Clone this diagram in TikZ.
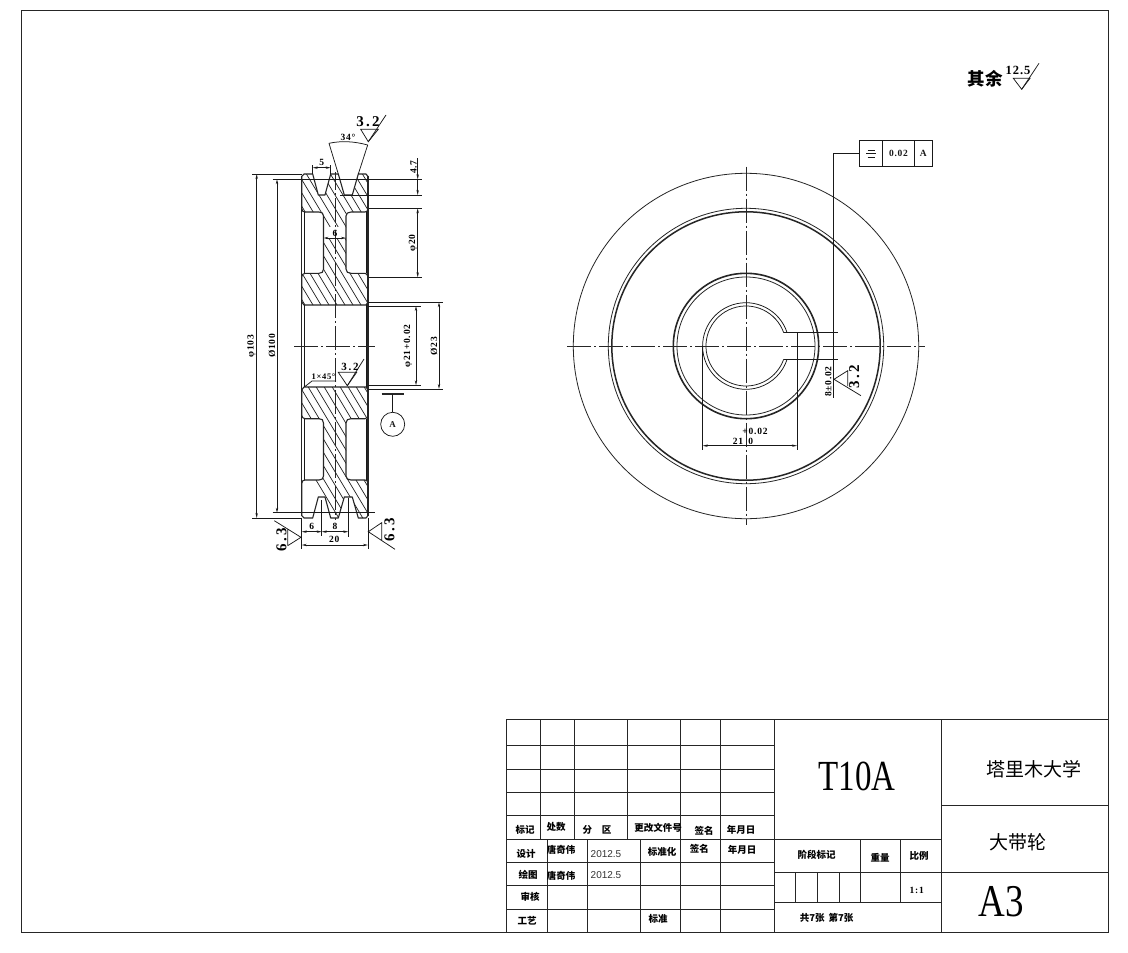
\documentclass[tikz,border=0pt]{standalone}
\usepackage{fontspec}
\usepackage{graphicx}
\setmainfont{Liberation Serif}
\newfontfamily\cjk{Noto Sans CJK SC}
\newfontfamily\dimf{Liberation Serif}[LetterSpace=8]
\newfontfamily\roughf{Liberation Serif}[LetterSpace=15]
\newfontfamily\arl{Liberation Sans}
\usetikzlibrary{arrows.meta}
\newcommand{\fsz}[1]{\fontsize{#1}{#1}\selectfont}
\newcommand{\sectpath}{(304,174) -- (301.7,176.5) -- (301.7,208) .. controls (301.7,211) and (303,212) .. (305,212) -- (319,212) .. controls (322,212) and (323.5,213.5) .. (323.5,216) -- (323.5,269) .. controls (323.5,272) and (322,273.3) .. (319,273.3) -- (305,273.3) .. controls (303,273.3) and (301.7,275) .. (301.7,277) -- (301.7,302) -- (304,305) -- (366,305) -- (368,302) -- (368,277) .. controls (368,275) and (367,273.3) .. (365,273.3) -- (351,273.3) .. controls (348,273.3) and (346,272) .. (346,269) -- (346,216) .. controls (346,213.5) and (348,212) .. (351,212) -- (365,212) .. controls (367,212) and (368,211) .. (368,208) -- (368,176.5) -- (366,174) -- (358.3,174) -- (352.3,195) -- (344.3,195) -- (338.3,174) -- (330.7,174) -- (325,195) -- (318.3,195) -- (312.7,174) -- cycle}
\tikzset{
  thin line/.style={line width=0.75pt,black!90},
  outline/.style={line width=1.1pt,black!85},
  hatch/.style={line width=0.7pt,black!85},
  axis line/.style={line width=0.75pt,black!85,dash pattern=on 24pt off 3pt on 2pt off 3pt},
  dimline/.style={thin line,{Stealth[length=5pt,width=2.4pt]}-{Stealth[length=5pt,width=2.4pt]}},
  frameline/.style={line width=1pt,black!85},
  dimtext/.style={font=\dimf\bfseries\fsz{9.5},inner sep=0pt},
  roughtext/.style={font=\roughf\bfseries\fsz{15},inner sep=0pt},
  titlecn/.style={font=\cjk\bfseries\fsz{9.5},inner sep=0pt},
  bigcn/.style={font=\cjk\fsz{19},inner sep=0pt},
  plaintext/.style={font=\arl\fsz{10},inner sep=0pt,text=black!80},
}
\begin{document}
\begin{tikzpicture}[x=1pt,y=-1pt]
\useasboundingbox (0,0) rectangle (1128,953);
\fill[white] (0,0) rectangle (1128,953);
% border
\draw[frameline] (21,10) rectangle (1108,932.5);

% ---------- section view: hatching
\begin{scope}
  \clip \sectpath;
  \foreach \i in {136,144,...,376} \draw[hatch] (\i,170) -- ({\i+96},330);
\end{scope}
\begin{scope}[shift={(0,692)},yscale=-1]
  \begin{scope}
    \clip \sectpath;
    \foreach \i in {256,264,...,376} \draw[hatch] (\i,312) -- ({\i+87},167);
  \end{scope}
\end{scope}
\fill[white] (324.2,227) rectangle (345.3,238);
\draw[outline,line join=round] \sectpath;
\begin{scope}[shift={(0,692)},yscale=-1]
  \draw[outline,line join=round] \sectpath;
\end{scope}
% section view: long edges
\draw[outline] (301.7,176) -- (301.7,516);
\draw[outline] (368,176) -- (368,516);
\draw[thin line] (304,212) -- (304,273.3) (366,212) -- (366,273.3);
\draw[thin line] (304,305) -- (304,387) (366,305) -- (366,387);
\draw[thin line] (304,419) -- (304,480) (366,419) -- (366,480);
% axis lines
\draw[axis line,dash phase=6pt] (335,172) -- (335,520);
\draw[axis line] (294,346) -- (375,346);

% dimensions: left
\coordinate (a1) at (256.7,174); \coordinate (a2) at (256.7,518);
\draw[thin line] (252,174) -- (301.7,174) (252,518) -- (301.7,518);
\draw[dimline] (a1) -- (a2);
\node[dimtext,rotate=90] (phi103) at (251.5,346) {φ103};
\coordinate (b1) at (277,179.3); \coordinate (b2) at (277,512.7);
\draw[thin line] (272.7,179.3) -- (421.7,179.3) (272.7,512.7) -- (375,512.7);
\draw[dimline] (b1) -- (b2);
\node[dimtext,rotate=90] (phi100) at (272,346) {Ø100};
% dimensions: right
\draw[thin line] (340,195) -- (421.7,195);
\draw[thin line,-{Stealth[length=5pt,width=2.4pt]}] (417.7,158) -- (417.7,179.3);
\draw[thin line,{Stealth[length=5pt,width=2.4pt]}-] (417.7,195) -- (417.7,179.3);
\node[dimtext,rotate=90] (d47) at (413.5,167) {4.7};
\draw[thin line] (369.3,208.3) -- (422,208.3) (369.3,277.3) -- (422,277.3);
\draw[dimline] (417.7,208.3) -- (417.7,277.3);
\node[dimtext,rotate=90] (phi20) at (413,243) {φ20};
\draw[thin line] (368,306) -- (420.7,306) (368,385.3) -- (420.7,385.3);
\draw[dimline] (416,306) -- (416,385.3);
\node[dimtext,rotate=90] (phi21) at (408,346) {φ21+0.02};
\draw[thin line] (368,302.3) -- (443,302.3) (368,389) -- (443,389);
\draw[dimline] (439,302.3) -- (439,389);
\node[dimtext,rotate=90] (phi23) at (434,346) {Ø23};
% groove dims
\draw[thin line] (312.7,174) -- (312.7,165) (330.7,174) -- (330.7,165);
\draw[dimline] (312.7,167.7) -- (330.7,167.7);
\node[dimtext] (d5) at (321.7,162) {5};
\draw[thin line] (338.3,174) -- (329,143.3) (358.3,174) -- (367.7,145);
\draw[thin line] (329,143.3) .. controls (342,140.5) and (355,141.5) .. (367.7,145);
\node[dimtext] (d34) at (348,137.5) {34°};
\draw[thin line] (360.7,129.3) -- (378.3,129.3) -- (368.3,141.7) -- cycle;
\draw[thin line] (368.3,141.7) -- (386,115);
\node[roughtext] (r32a) at (368,122) {3.2};
% web dim
\draw[dimline] (323.5,238) -- (346,238);
\node[dimtext] (d6) at (335,233) {6};
% chamfer and inner roughness
\draw[thin line] (305,386.5) -- (312,381) -- (336,381);
\node[dimtext,font=\dimf\bfseries\fsz{8.5}] (chm) at (323.5,376.5) {1×45°};
\draw[thin line] (338.3,372.3) -- (356.7,372.3) -- (347.3,385.7) -- cycle;
\draw[thin line] (347.3,385.7) -- (364,359);
\node[dimtext,font=\roughf\bfseries\fsz{11}] (r32b) at (350,367) {3.2};
% datum
\draw[line width=1.6pt,black!85] (381.7,394) -- (404,394);
\node[circle,thin line,draw,minimum size=24pt,inner sep=0pt] (datum) at (392.7,424.3) {\dimf\bfseries\fsz{9}A};
\draw[thin line] (392.7,394) -- (datum.north);
% bottom dims
\draw[thin line] (321.7,500) -- (321.7,536) (348.3,498) -- (348.3,536.7);
\draw[thin line] (301.7,518) -- (301.7,549) (368,518) -- (368,549);
\draw[dimline] (301.7,531.7) -- (321.7,531.7);
\draw[dimline] (321.7,531.7) -- (348.3,531.7);
\draw[dimline] (301.7,545) -- (368,545);
\node[dimtext] (d6b) at (311.7,526.5) {6};
\node[dimtext] (d8b) at (335,526.5) {8};
\node[dimtext] (d20b) at (334.3,539) {20};
% 6.3 left
\draw[thin line] (274.3,520.7) -- (301,537.3) -- (287.7,545.7) (287.7,529) -- (287.7,545.7);
\node[roughtext,rotate=90] (r63a) at (281.5,540) {6.3};
% 6.3 right
\draw[thin line] (395,549.3) -- (368.3,531.7) -- (381.7,522.7) -- (381.7,540.7);
\node[roughtext,rotate=90] (r63b) at (389.5,530) {6.3};

% ---------- front view
\foreach \r/\w in {172.7/0.8,137.7/0.8,134.2/1.5,72.7/1.6,69/0.8} \draw[line width=\w pt,black!85] (746,346) circle (\r);
\draw[thin line] (783.7,332.7) arc[start angle=-19.4,end angle=-340.6,radius=40];
\draw[thin line] (787.1,332.7) arc[start angle=-17.9,end angle=-342.1,radius=43.3];
\draw[axis line] (746,166.7) -- (746,525);
\draw[axis line] (567,346) -- (925,346);
% keyway
\draw[thin line] (783.7,332.5) -- (837.7,332.5) (783.7,359.3) -- (837.7,359.3);
\draw[thin line] (797,332.5) -- (797,450);
\draw[thin line] (702.7,346) -- (702.7,450);
\draw[dimline] (702.7,445.7) -- (797,445.7);
\node[dimtext] (tolp) at (755,431.7) {+0.02};
\node[dimtext] (d21) at (738,441) {21};
\node[dimtext] (tol0) at (750.7,441) {0};
% tolerance frame
\node[draw,thin line,minimum width=23.4pt,minimum height=26.7pt,inner sep=0pt,anchor=center] (tf1) at (871,153.4) {};
\node[draw,thin line,minimum width=31.6pt,minimum height=26.7pt,inner sep=0pt,dimtext] (tf2) at (898.5,153.4) {0.02};
\node[draw,thin line,minimum width=18pt,minimum height=26.7pt,inner sep=0pt,dimtext] (tf3) at (923.3,153.4) {A};
\draw[thin line] (866,153.4) -- (876,153.4) (867.5,150) -- (874.5,150) (867.5,157) -- (874.5,157);
\coordinate (lk) at (833.3,398);
\draw[thin line] (tf1.west) -- (833.3,153.4) -- (lk);
\node[dimtext,rotate=90] (d8) at (828.3,381.5) {8±0.02};
\draw[thin line] (861,395.7) -- (834,379.3) -- (847.7,370.7) -- (847.7,386);
\node[roughtext,rotate=90] (r32c) at (854.3,377) {3.2};
% top-right note
\node[font=\cjk\bfseries\fsz{17.5},inner sep=0pt] (qy) at (985,79) {其余};
\node[font=\dimf\bfseries\fsz{12.5},inner sep=0pt] (r125) at (1018,70) {12.5};
\draw[thin line] (1013.3,78.3) -- (1030,78.3) -- (1021.7,89.3) -- cycle;
\draw[thin line] (1021.7,89.3) -- (1039,63.3);

% ---------- title block
\draw[frameline] (506.7,719) rectangle (1108,932.5);
\foreach \y in {745.5,769,792.5,815.7} \draw[frameline] (506.7,\y) -- (774,\y);
\foreach \y in {862.3,885.7,909} \draw[frameline] (506.7,\y) -- (774,\y);
\draw[frameline] (506.7,839.3) -- (941,839.3);
\foreach \x in {540.7,574,627.7} \draw[frameline] (\x,719) -- (\x,839.3);
\foreach \x in {547.3,587.3,640.7} \draw[frameline] (\x,839.3) -- (\x,932.5);
\foreach \x in {680.7,720.7,774,941} \draw[frameline] (\x,719) -- (\x,932.5);
\draw[frameline] (941,805.7) -- (1108,805.7);
\draw[frameline] (774,872.7) -- (1108,872.7);
\draw[frameline] (774,902.7) -- (941,902.7);
\foreach \x in {860.7,900.7} \draw[frameline] (\x,839.3) -- (\x,902.7);
\foreach \x in {795.7,817.3,839} \draw[frameline] (\x,872.7) -- (\x,902.7);

\node[titlecn] (t1) at (525,830) {标记};
\node[titlecn] (t2) at (556,827) {处数};
\node[titlecn] (t3) at (597,830) {分\hspace{10pt}区};
\node[titlecn] (t4) at (658,828) {更改文件号};
\node[titlecn] (t5) at (704,831) {签名};
\node[titlecn] (t6) at (741,830) {年月日};
\node[titlecn] (t7) at (526,854) {设计};
\node[titlecn] (t8) at (561,850) {唐奇伟};
\node[plaintext] (t9) at (606,854) {2012.5};
\node[titlecn] (t10) at (662,852) {标准化};
\node[titlecn] (t11) at (699.3,849) {签名};
\node[titlecn] (t12) at (742,850) {年月日};
\node[titlecn] (t13) at (528,875) {绘图};
\node[titlecn] (t14) at (561,875.5) {唐奇伟};
\node[plaintext] (t15) at (606,875) {2012.5};
\node[titlecn] (t16) at (530,897) {审核};
\node[titlecn] (t17) at (527,921) {工艺};
\node[titlecn] (t18) at (658,919) {标准};
\node[titlecn] (t19) at (816.7,855) {阶段标记};
\node[titlecn] (t20) at (880,858) {重量};
\node[titlecn] (t21) at (919,856) {比例};
\node[dimtext] (t22) at (916.7,890) {1:1};
\node[titlecn] (t23) at (826.7,918) {共7张\hspace{4pt}第7张};
\node[inner sep=0pt] (t24) at (857,776.7) {\scalebox{1}[1.3]{\fsz{33}T10A}};
\node[inner sep=0pt] (t25) at (1001,901.7) {\scalebox{1}[1.23]{\fsz{37}A3}};
\node[bigcn] (t26) at (1034,769.3) {塔里木大学};
\node[bigcn] (t27) at (1017.7,842.3) {大带轮};
\end{tikzpicture}
\end{document}
